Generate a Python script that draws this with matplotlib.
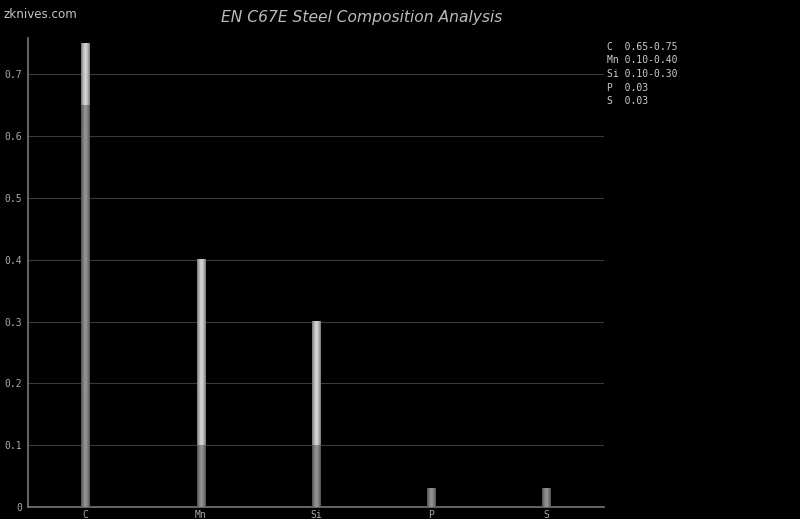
import matplotlib.pyplot as plt
import numpy as np

elements = ["C", "Mn", "Si", "P", "S"]
range_low = [0.65, 0.10, 0.10, 0.03, 0.03]
range_high = [0.75, 0.40, 0.30, 0.03, 0.03]
legend_lines = ["C  0.65-0.75", "Mn 0.10-0.40", "Si 0.10-0.30", "P  0.03", "S  0.03"]
yticks = [0, 0.1, 0.2, 0.3, 0.4, 0.5, 0.6, 0.7]

fig = plt.figure(figsize=(8, 5.19), dpi=100, facecolor="black")
ax = fig.add_axes([0.035, 0.023, 0.72, 0.904], facecolor="black")

xs = np.arange(len(elements)) + 0.5
half_w = 0.036

# cylinder-ish shading across the bar width
prof = np.linspace(-1, 1, 32)
shade = 1 - 0.45 * np.abs(prof) ** 1.5


def draw_seg(x, y0, y1, base):
    if y1 <= y0:
        return
    col = np.clip(base * shade, 0, 1)
    img = np.repeat(col[None, :, None], 3, axis=2)
    ax.imshow(img, extent=[x - half_w, x + half_w, y0, y1], aspect="auto",
              interpolation="bilinear", zorder=3)


for x, lo, hi in zip(xs, range_low, range_high):
    draw_seg(x, 0, lo, 0.58)
    draw_seg(x, lo, hi, 0.84)

ax.set_xlim(0, len(elements))
ax.set_ylim(0, 0.759)
ax.set_yticks(yticks)
ax.set_yticklabels(["0", "0.1", "0.2", "0.3", "0.4", "0.5", "0.6", "0.7"])
ax.set_xticks(xs)
ax.set_xticklabels(elements)
ax.grid(axis="y", color="#3a3a3a", linewidth=0.8, zorder=0)
ax.set_axisbelow(True)
for s in ["top", "right"]:
    ax.spines[s].set_visible(False)
for s in ["left", "bottom"]:
    ax.spines[s].set_color("#777777")
    ax.spines[s].set_linewidth(1.2)
ax.tick_params(length=0, colors="#aaaaaa", labelsize=7, pad=4)
ax.tick_params(axis="x", pad=2)
for lab in ax.get_xticklabels() + ax.get_yticklabels():
    lab.set_family("DejaVu Sans Mono")

fig.text(0.4525, 0.967, "EN C67E Steel Composition Analysis", ha="center", va="center",
         color="#bbbbbb", fontsize=11.2, style="italic")
fig.text(0.004, 0.972, "zknives.com", ha="left", va="center", color="#c4c4c4", fontsize=8.6)

for i, line in enumerate(legend_lines):
    fig.text(0.759, 1 - (46.5 + i * 13.7) / 519, line, ha="left", va="center",
             color="#cccccc", fontsize=7, family="DejaVu Sans Mono")

fig.savefig("out.png", facecolor="black")
